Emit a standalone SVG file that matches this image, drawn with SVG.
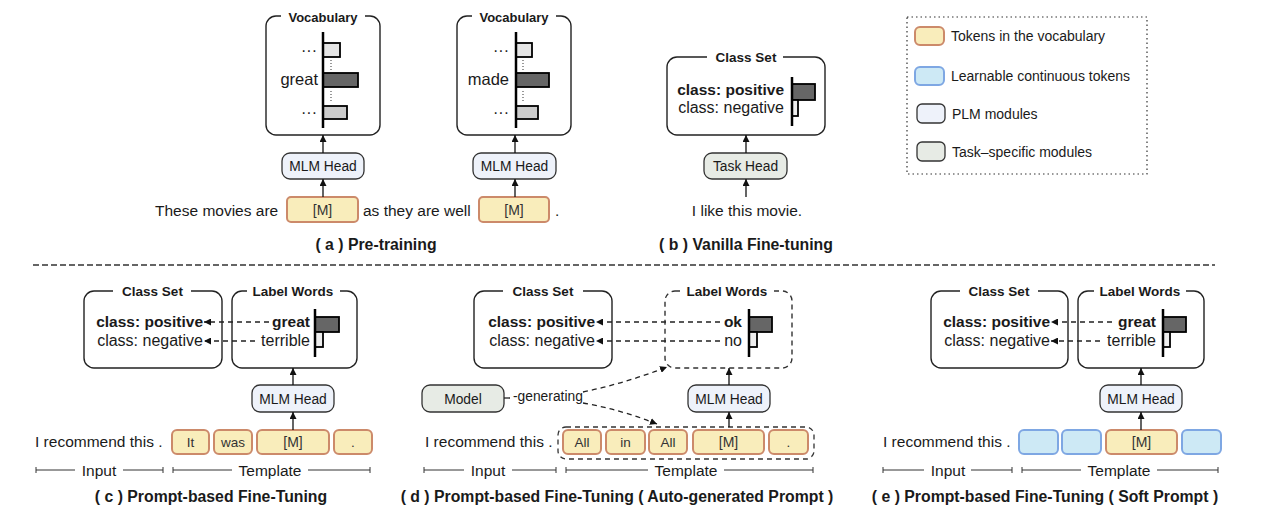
<svg xmlns="http://www.w3.org/2000/svg" width="1266" height="525" viewBox="0 0 1266 525">
<defs>
<marker id="ah" markerUnits="userSpaceOnUse" markerWidth="8" markerHeight="7" refX="7" refY="3.5" orient="auto">
<path d="M0,0 L7,3.5 L0,7 z" fill="#111"/>
</marker>
<style>
text{font-family:"Liberation Sans",Arial,Helvetica,sans-serif;fill:#1a1a1a}
.box{fill:#fff;stroke:#222;stroke-width:1.4}
.dbox{fill:#fff;stroke:#333;stroke-width:1.4;stroke-dasharray:5,4}
.gap{fill:#fff;stroke:none}
.plm{fill:#eef2fa;stroke:#333;stroke-width:1.3}
.task{fill:#e7ebe5;stroke:#333;stroke-width:1.3}
.tok{fill:#f9edbb;stroke:#cc8a6a;stroke-width:2}
.soft{fill:#cde9f5;stroke:#7ea7e3;stroke-width:2}
.ttl{font-size:13.5px;font-weight:bold;text-anchor:middle}
.mod{font-size:13.8px;text-anchor:middle}
.tt{font-size:13.5px;text-anchor:middle;fill:#333}
.sent{font-size:15.5px}
.cb{font-size:15.5px;font-weight:bold;text-anchor:end}
.cn{font-size:16px;text-anchor:end}
.cap{font-size:15.8px;font-weight:bold;text-anchor:middle}
.leg{font-size:14px}
.lbl{font-size:15.5px;text-anchor:middle}
.axis{stroke:#000;stroke-width:2.5}
.bar{stroke:#000;stroke-width:1.8}
.arr{stroke:#111;stroke-width:1.3;fill:none;marker-end:url(#ah)}
.darr{stroke:#222;stroke-width:1.3;fill:none;stroke-dasharray:5,4;marker-end:url(#ah)}
.rng{stroke:#333;stroke-width:1}
.dot{stroke:#555;stroke-width:1.2;stroke-dasharray:1,2}
</style>
</defs>

<!-- separator -->
<line x1="33" y1="265" x2="1215" y2="265" stroke="#333" stroke-width="1.3" stroke-dasharray="6,3"/>

<!-- legend -->
<g id="legend">
<rect x="907" y="17" width="240" height="157" fill="none" stroke="#333" stroke-width="1.2" stroke-dasharray="1.5,3"/>
<rect x="915" y="27" width="29" height="18" rx="5" class="tok" stroke-width="1.5"/>
<text x="951" y="41" class="leg">Tokens in the vocabulary</text>
<rect x="915" y="67" width="29" height="18" rx="5" class="soft" stroke-width="1.5"/>
<text x="951" y="80.5" class="leg">Learnable continuous tokens</text>
<rect x="917" y="104" width="28" height="19" rx="5" class="plm"/>
<text x="952" y="119" class="leg">PLM modules</text>
<rect x="917" y="142" width="28" height="19" rx="5" class="task"/>
<text x="952" y="157" class="leg">Task–specific modules</text>
</g>

<!-- (a) Pre-training -->
<g id="a-vocab1">
<rect x="266" y="16" width="114" height="119" rx="10" class="box"/>
<rect x="281" y="10" width="84" height="12" class="gap"/>
<text x="323" y="21.5" class="ttl" style="font-size:13px">Vocabulary</text>
<rect x="323" y="43" width="17" height="14" class="bar" fill="#e6e6e6"/>
<rect x="323" y="73" width="35" height="14" class="bar" fill="#666"/>
<rect x="323" y="106" width="24" height="13" class="bar" fill="#ccc"/>
<line x1="323" y1="32" x2="323" y2="128" class="axis"/>
<line x1="331" y1="60" x2="331" y2="70" class="dot"/>
<line x1="331" y1="91" x2="331" y2="101" class="dot"/>
<text x="317" y="56" font-size="16" text-anchor="end">···</text>
<text x="318" y="85" font-size="16.5" text-anchor="end">great</text>
<text x="317" y="118" font-size="16" text-anchor="end">···</text>
</g>
<g id="a-vocab2">
<rect x="457" y="16" width="114" height="119" rx="10" class="box"/>
<rect x="472" y="10" width="84" height="12" class="gap"/>
<text x="514" y="21.5" class="ttl" style="font-size:13px">Vocabulary</text>
<rect x="516" y="43" width="16" height="14" class="bar" fill="#e6e6e6"/>
<rect x="516" y="73" width="33" height="14" class="bar" fill="#666"/>
<rect x="516" y="106" width="22" height="13" class="bar" fill="#ccc"/>
<line x1="516" y1="32" x2="516" y2="128" class="axis"/>
<line x1="523" y1="60" x2="523" y2="70" class="dot"/>
<line x1="523" y1="91" x2="523" y2="101" class="dot"/>
<text x="509" y="56" font-size="16" text-anchor="end">···</text>
<text x="509" y="85" font-size="16.5" text-anchor="end">made</text>
<text x="509" y="118" font-size="16" text-anchor="end">···</text>
</g>
<g id="a-mlm1">
<rect x="282" y="153" width="82" height="26" rx="8" class="plm"/>
<text x="323" y="171" class="mod">MLM Head</text>
</g>
<g id="a-mlm2">
<rect x="473" y="153" width="83" height="26" rx="8" class="plm"/>
<text x="514.5" y="171" class="mod">MLM Head</text>
</g>
<g id="a-input">
<text x="155" y="215.5" class="sent">These movies are</text>
<rect x="287" y="197" width="71" height="25" rx="4" class="tok"/>
<text x="322.5" y="214.5" class="tt" style="font-size:14px">[M]</text>
<text x="363" y="215.5" class="sent">as they are well</text>
<rect x="479" y="197" width="70" height="25" rx="4" class="tok"/>
<text x="514" y="214.5" class="tt" style="font-size:14px">[M]</text>
<text x="555" y="215.5" class="sent">.</text>
</g>
<text x="376" y="250" class="cap">( a ) Pre-training</text>

<!-- (b) Vanilla fine-tuning -->
<g id="b-classset">
<rect x="667" y="57" width="158" height="78" rx="10" class="box"/>
<rect x="707" y="50" width="76" height="12" class="gap"/>
<text x="746" y="62" class="ttl">Class Set</text>
<text x="784" y="95" class="cb">class: positive</text>
<text x="784" y="113" class="cn">class: negative</text>
<rect x="792" y="84" width="23" height="16" class="bar" fill="#666"/>
<rect x="792" y="100" width="6" height="16" class="bar" fill="#eee"/>
<line x1="792" y1="77" x2="792" y2="126" class="axis"/>
</g>
<g id="b-taskhead">
<rect x="704" y="153" width="83" height="26" rx="8" class="task"/>
<text x="745.5" y="171" class="mod">Task Head</text>
</g>
<text x="747" y="215.5" class="sent" text-anchor="middle">I like this movie.</text>
<text x="746" y="250" class="cap">( b ) Vanilla Fine-tuning</text>

<!-- (c) Prompt-based fine-tuning -->
<g id="c-classset">
<rect x="84" y="291" width="138" height="77" rx="10" class="box"/>
<rect x="113" y="284" width="78" height="12" class="gap"/>
<text x="152.5" y="295.5" class="ttl">Class Set</text>
<text x="203" y="327" class="cb">class: positive</text>
<text x="203" y="345.5" class="cn">class: negative</text>
</g>
<g id="c-labelwords">
<rect x="232" y="291" width="125" height="77" rx="10" class="box"/>
<rect x="247" y="284" width="93" height="12" class="gap"/>
<text x="293" y="295.5" class="ttl">Label Words</text>
<text x="310" y="327" class="cb">great</text>
<text x="310" y="345.5" class="cn">terrible</text>
<rect x="315" y="317" width="24" height="15" class="bar" fill="#666"/>
<rect x="315" y="332" width="8" height="15" class="bar" fill="#eee"/>
<line x1="315" y1="309" x2="315" y2="357" class="axis"/>
</g>
<g id="c-mlm">
<rect x="252" y="385" width="82" height="27" rx="8" class="plm"/>
<text x="293" y="403.5" class="mod">MLM Head</text>
</g>
<g id="c-input">
<text x="35" y="447" class="sent">I recommend this .</text>
<rect x="172" y="430" width="37" height="24" rx="5" class="tok"/>
<text x="190.5" y="447" class="tt">It</text>
<rect x="214" y="430" width="38" height="24" rx="5" class="tok"/>
<text x="233" y="447" class="tt">was</text>
<rect x="257" y="430" width="72" height="24" rx="5" class="tok"/>
<text x="293" y="447" class="tt" style="font-size:14px">[M]</text>
<rect x="334" y="430" width="38" height="24" rx="5" class="tok"/>
<text x="353" y="447" class="tt">.</text>
</g>
<g id="c-ranges">
<line x1="36" y1="470" x2="75" y2="470" class="rng"/><line x1="123" y1="470" x2="163" y2="470" class="rng"/>
<line x1="36" y1="467" x2="36" y2="473" class="rng"/><line x1="163" y1="467" x2="163" y2="473" class="rng"/>
<text x="99" y="475.5" class="lbl">Input</text>
<line x1="173" y1="470" x2="232" y2="470" class="rng"/><line x1="308" y1="470" x2="370" y2="470" class="rng"/>
<line x1="173" y1="467" x2="173" y2="473" class="rng"/><line x1="370" y1="467" x2="370" y2="473" class="rng"/>
<text x="270" y="475.5" class="lbl">Template</text>
</g>
<text x="211" y="502" class="cap">( c ) Prompt-based Fine-Tuning</text>

<!-- (d) Auto-generated prompt -->
<g id="d-classset">
<rect x="474" y="291" width="138" height="77" rx="10" class="box"/>
<rect x="503" y="284" width="80" height="12" class="gap"/>
<text x="543" y="295.5" class="ttl">Class Set</text>
<text x="595" y="327" class="cb">class: positive</text>
<text x="595" y="345.5" class="cn">class: negative</text>
</g>
<g id="d-labelwords">
<rect x="665" y="291" width="127" height="77" rx="10" class="dbox"/>
<rect x="682" y="284" width="91" height="12" class="gap"/>
<text x="727" y="295.5" class="ttl">Label Words</text>
<text x="742" y="327" class="cb">ok</text>
<text x="742" y="345.5" class="cn">no</text>
<rect x="749" y="317" width="23" height="15" class="bar" fill="#666"/>
<rect x="749" y="332" width="8" height="15" class="bar" fill="#eee"/>
<line x1="749" y1="309" x2="749" y2="357" class="axis"/>
</g>
<g id="d-mlm">
<rect x="688" y="385" width="82" height="27" rx="8" class="plm"/>
<text x="729" y="403.5" class="mod">MLM Head</text>
</g>
<g id="d-model">
<rect x="422" y="385" width="82" height="27" rx="8" class="task"/>
<text x="463" y="403.5" class="mod">Model</text>
<line x1="504" y1="398" x2="510" y2="398" stroke="#222" stroke-width="1.3"/>
<text x="513" y="401" style="font-size:13.8px">-generating</text>
</g>
<g id="d-input">
<text x="425" y="447" class="sent">I recommend this .</text>
<rect x="558" y="427" width="256" height="32" rx="8" fill="none" stroke="#333" stroke-width="1.3" stroke-dasharray="5,4"/>
<rect x="563" y="430" width="38" height="24" rx="5" class="tok"/>
<text x="582" y="447" class="tt">All</text>
<rect x="606" y="430" width="39" height="24" rx="5" class="tok"/>
<text x="625.5" y="447" class="tt">in</text>
<rect x="649" y="430" width="38" height="24" rx="5" class="tok"/>
<text x="668" y="447" class="tt">All</text>
<rect x="693" y="430" width="71" height="24" rx="5" class="tok"/>
<text x="728.5" y="447" class="tt" style="font-size:14px">[M]</text>
<rect x="769" y="430" width="39" height="24" rx="5" class="tok"/>
<text x="788.5" y="447" class="tt">.</text>
</g>
<g id="d-ranges">
<line x1="424" y1="470" x2="464" y2="470" class="rng"/><line x1="512" y1="470" x2="556" y2="470" class="rng"/>
<line x1="424" y1="467" x2="424" y2="473" class="rng"/><line x1="556" y1="467" x2="556" y2="473" class="rng"/>
<text x="488" y="475.5" class="lbl">Input</text>
<line x1="566" y1="470" x2="648" y2="470" class="rng"/><line x1="724" y1="470" x2="813" y2="470" class="rng"/>
<line x1="566" y1="467" x2="566" y2="473" class="rng"/><line x1="813" y1="467" x2="813" y2="473" class="rng"/>
<text x="686" y="475.5" class="lbl">Template</text>
</g>
<text x="617" y="502" class="cap">( d ) Prompt-based Fine-Tuning ( Auto-generated Prompt )</text>

<!-- (e) Soft prompt -->
<g id="e-classset">
<rect x="931" y="291" width="137" height="77" rx="10" class="box"/>
<rect x="960" y="284" width="78" height="12" class="gap"/>
<text x="999" y="295.5" class="ttl">Class Set</text>
<text x="1050" y="327" class="cb">class: positive</text>
<text x="1050" y="345.5" class="cn">class: negative</text>
</g>
<g id="e-labelwords">
<rect x="1078" y="291" width="126" height="77" rx="10" class="box"/>
<rect x="1094" y="284" width="92" height="12" class="gap"/>
<text x="1140" y="295.5" class="ttl">Label Words</text>
<text x="1156" y="327" class="cb">great</text>
<text x="1156" y="345.5" class="cn">terrible</text>
<rect x="1163" y="317" width="23" height="15" class="bar" fill="#666"/>
<rect x="1163" y="332" width="7" height="15" class="bar" fill="#eee"/>
<line x1="1163" y1="309" x2="1163" y2="357" class="axis"/>
</g>
<g id="e-mlm">
<rect x="1100" y="385" width="82" height="27" rx="8" class="plm"/>
<text x="1141" y="403.5" class="mod">MLM Head</text>
</g>
<g id="e-input">
<text x="883" y="447" class="sent">I recommend this .</text>
<rect x="1019" y="430" width="39" height="24" rx="5" class="soft"/>
<rect x="1062" y="430" width="39" height="24" rx="5" class="soft"/>
<rect x="1106" y="430" width="71" height="24" rx="5" class="tok"/>
<text x="1141.5" y="447" class="tt" style="font-size:14px">[M]</text>
<rect x="1182" y="430" width="39" height="24" rx="5" class="soft"/>
</g>
<g id="e-ranges">
<line x1="883" y1="470" x2="924" y2="470" class="rng"/><line x1="971" y1="470" x2="1012" y2="470" class="rng"/>
<line x1="883" y1="467" x2="883" y2="473" class="rng"/><line x1="1012" y1="467" x2="1012" y2="473" class="rng"/>
<text x="948" y="475.5" class="lbl">Input</text>
<line x1="1022" y1="470" x2="1081" y2="470" class="rng"/><line x1="1157" y1="470" x2="1218" y2="470" class="rng"/>
<line x1="1022" y1="467" x2="1022" y2="473" class="rng"/><line x1="1218" y1="467" x2="1218" y2="473" class="rng"/>
<text x="1119" y="475.5" class="lbl">Template</text>
</g>
<text x="1045" y="502" class="cap">( e ) Prompt-based Fine-Tuning ( Soft Prompt )</text>

<!-- connectors -->
<g id="connectors">
<line x1="323" y1="153" x2="323" y2="135" class="arr"/>
<line x1="323" y1="197" x2="323" y2="179" class="arr"/>
<line x1="515" y1="153" x2="515" y2="135" class="arr"/>
<line x1="515" y1="197" x2="515" y2="179" class="arr"/>
<line x1="746" y1="153" x2="746" y2="135" class="arr"/>
<line x1="746" y1="197" x2="746" y2="179" class="arr"/>
<line x1="293" y1="385" x2="293" y2="368" class="arr"/>
<line x1="293" y1="430" x2="293" y2="412" class="arr"/>
<line x1="269" y1="322" x2="204" y2="322" class="darr"/>
<line x1="255" y1="341" x2="204" y2="341" class="darr"/>
<line x1="729" y1="385" x2="729" y2="368" class="arr"/>
<line x1="729" y1="427" x2="729" y2="412" class="arr"/>
<line x1="720" y1="322" x2="596" y2="322" class="darr"/>
<line x1="720" y1="341" x2="596" y2="341" class="darr"/>
<path d="M583,392 Q626,383 667,367" class="darr"/>
<path d="M583,403 Q622,410 657,424" class="darr"/>
<line x1="1141" y1="385" x2="1141" y2="368" class="arr"/>
<line x1="1141" y1="430" x2="1141" y2="412" class="arr"/>
<line x1="1112" y1="322" x2="1051" y2="322" class="darr"/>
<line x1="1100" y1="341" x2="1051" y2="341" class="darr"/>
</g>
</svg>
